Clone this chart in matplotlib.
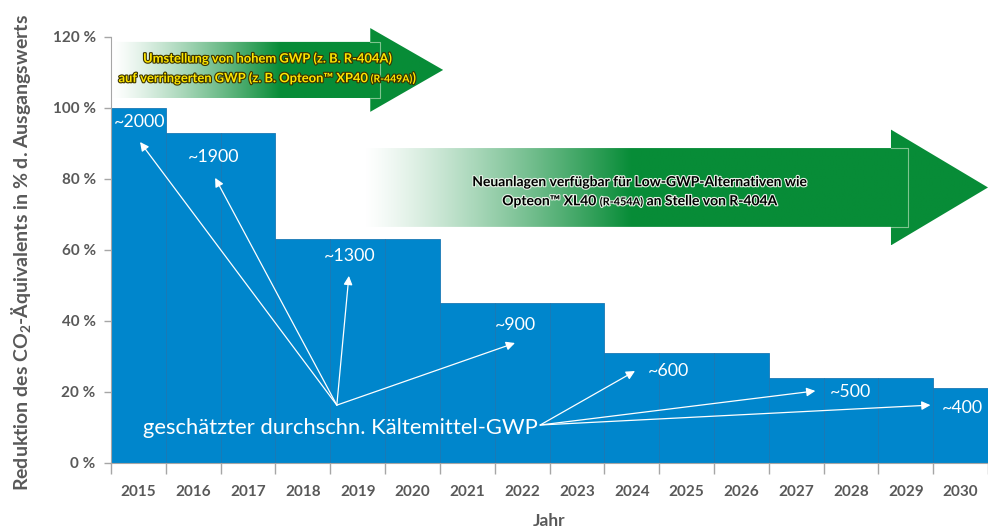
## modules
import numpy as np
import matplotlib
matplotlib.use("Agg")
import matplotlib.pyplot as plt
import matplotlib.patheffects as pe
from matplotlib.patches import Polygon
from matplotlib.colors import to_rgb
from matplotlib.offsetbox import TextArea, HPacker, VPacker, AnnotationBbox

plt.rcParams['font.family'] = ['Lato', 'DejaVu Sans']
plt.rcParams['mathtext.fontset'] = 'custom'
plt.rcParams['mathtext.rm'] = 'Lato'
plt.rcParams['mathtext.bf'] = 'Lato:bold'

## data
years = [2015, 2016, 2017, 2018, 2019, 2020, 2021, 2022,
         2023, 2024, 2025, 2026, 2027, 2028, 2029, 2030]
reduction = [100, 93, 93, 63, 63, 63, 45, 45, 45, 31, 31, 31, 24, 24, 24, 21]
gwp_labels = ['~2000', '~1900', '~1300', '~900', '~600', '~500', '~400']
yticks = [0, 20, 40, 60, 80, 100, 120]

## colours
BLUE = '#0086cc'
GREEN = '#078c37'
GREY = '#595959'

fig = plt.figure(figsize=(9.88, 5.32), dpi=100)
ax = fig.add_axes([111/988, 69/532, 877/988, 463/532])

x = np.arange(len(years))
ax.bar(x, reduction, width=1.0, color=BLUE, edgecolor='#1a78b4', linewidth=0.6, zorder=2)


def grad_arrow(ax, x0, x1, xbox, xtip, ym, bh, hh, xfade):
    verts = [(x0, ym - bh), (x1, ym - bh), (x1, ym - hh), (xtip, ym),
             (x1, ym + hh), (x1, ym + bh), (x0, ym + bh)]
    poly = Polygon(verts, closed=True, fc='none', ec='none', zorder=3)
    ax.add_patch(poly)
    xs = np.linspace(x0, xtip, 500)
    t = np.clip((xs - x0) / (xfade - x0), 0, 1) ** 1.2
    white = np.array([1.0, 1.0, 1.0])
    green = np.array(to_rgb(GREEN))
    rgb = white + (green - white) * t[:, None]
    im = ax.imshow(rgb[None, :, :], extent=(x0, xtip, ym - hh, ym + hh),
                   aspect='auto', zorder=3, interpolation='bilinear')
    im.set_clip_path(poly)
    ax.plot([x1, xbox, xbox, x1], [ym + bh, ym + bh, ym - bh, ym - bh],
            color='#7fc48f', lw=0.8, zorder=4)


def arrow_text(ax, xy, lines, color, stroke, size, small):
    rows = []
    for parts in lines:
        boxes = []
        for txt, is_small in parts:
            boxes.append(TextArea(txt, textprops=dict(
                color=color, fontsize=small if is_small else size, fontweight='bold',
                path_effects=[pe.withStroke(linewidth=1.6, foreground=stroke)])))
        rows.append(HPacker(children=boxes, align='baseline', pad=0, sep=0))
    box = VPacker(children=rows, align='center', pad=0, sep=5)
    ab = AnnotationBbox(box, xy, frameon=False, box_alignment=(0.5, 0.5), zorder=6)
    ax.add_artist(ab)


## arrow 1
grad_arrow(ax, -0.46, 4.23, 4.41, 5.56, 110.7, 7.9, 11.8, 2.6)
arrow_text(ax, (2.35, 111.2),
           [[('Umstellung von hohem GWP (z. B. R-404A)', False)],
            [('auf verringerten GWP (z. B. Opteon™ XP40 ', False), ('(R-449A)', True), (')', False)]],
           '#ffe600', '#3a3300', 9.3, 7.5)

## arrow 2
grad_arrow(ax, 4.14, 13.73, 14.04, 15.5, 77.6, 11.1, 16.3, 9.0)
arrow_text(ax, (9.15, 76.4),
           [[('Neuanlagen verfügbar für Low-GWP-Alternativen wie', False)],
            [('Opteon™ XL40 ', False), ('(R-454A)', True), (' an Stelle von R-404A', False)]],
           'black', '#e6f2e6', 10, 7.8)

## GWP annotations
label_pos = [(-0.445, 96.1), (0.905, 86.2), (3.39, 58.3), (6.51, 38.9),
             (9.30, 25.9), (12.62, 20.0), (14.66, 15.5)]
tips = [(0.03, 90.4), (1.40, 80.3), (3.84, 52.7), (6.87, 33.8),
        (9.06, 25.9), (12.35, 20.3), (14.45, 16.3)]
origins = [(3.62, 16.3)] * 4 + [(7.33, 10.7)] * 3
for lab, p, tip, org in zip(gwp_labels, label_pos, tips, origins):
    ax.text(p[0], p[1], lab, color='white', fontsize=12.8, ha='left', va='center', zorder=5)
    ax.annotate('', xy=tip, xytext=org, zorder=5,
                arrowprops=dict(arrowstyle='-|>', color='white', lw=0.9,
                                mutation_scale=13, shrinkA=0, shrinkB=0))
ax.text(0.084, 9.9, 'geschätzter durchschn. Kältemittel-GWP', color='white',
        fontsize=15.8, ha='left', va='center', zorder=5)

## axes
ax.set_xlim(-0.5, 15.5)
ax.set_ylim(0, 130.4)
ax.set_xticks(x)
ax.set_xticklabels([str(y) for y in years])
ax.set_xticks(np.arange(-0.5, 16, 1), minor=True)
ax.tick_params(axis='x', which='major', length=0, pad=16, labelsize=11, labelcolor=GREY)
ax.tick_params(axis='x', which='minor', length=8, width=1, color='#a6a6a6')
ax.set_yticks(yticks)
ax.set_yticklabels([f'{v} %' for v in yticks])
ax.tick_params(axis='y', length=5, width=1, color='#a6a6a6', pad=6, labelsize=11, labelcolor=GREY)
for lab in ax.get_xticklabels() + ax.get_yticklabels():
    lab.set_fontweight('bold')
for s in ['top', 'right']:
    ax.spines[s].set_visible(False)
ax.spines['left'].set_bounds(0, 120)
ax.spines['left'].set_color('#a6a6a6')
ax.spines['bottom'].set_color('#a6a6a6')
ax.set_xlabel('Jahr', fontsize=12.5, fontweight='bold', color=GREY, labelpad=10)

fig.text(22/988, 1 - 252/532, r'Reduktion des CO$_\mathbf{2}$-Äquivalents in % d. Ausgangswerts',
         rotation=90, ha='center', va='center', fontsize=14, fontweight='bold', color=GREY)

fig.savefig('out.png', dpi=100)
